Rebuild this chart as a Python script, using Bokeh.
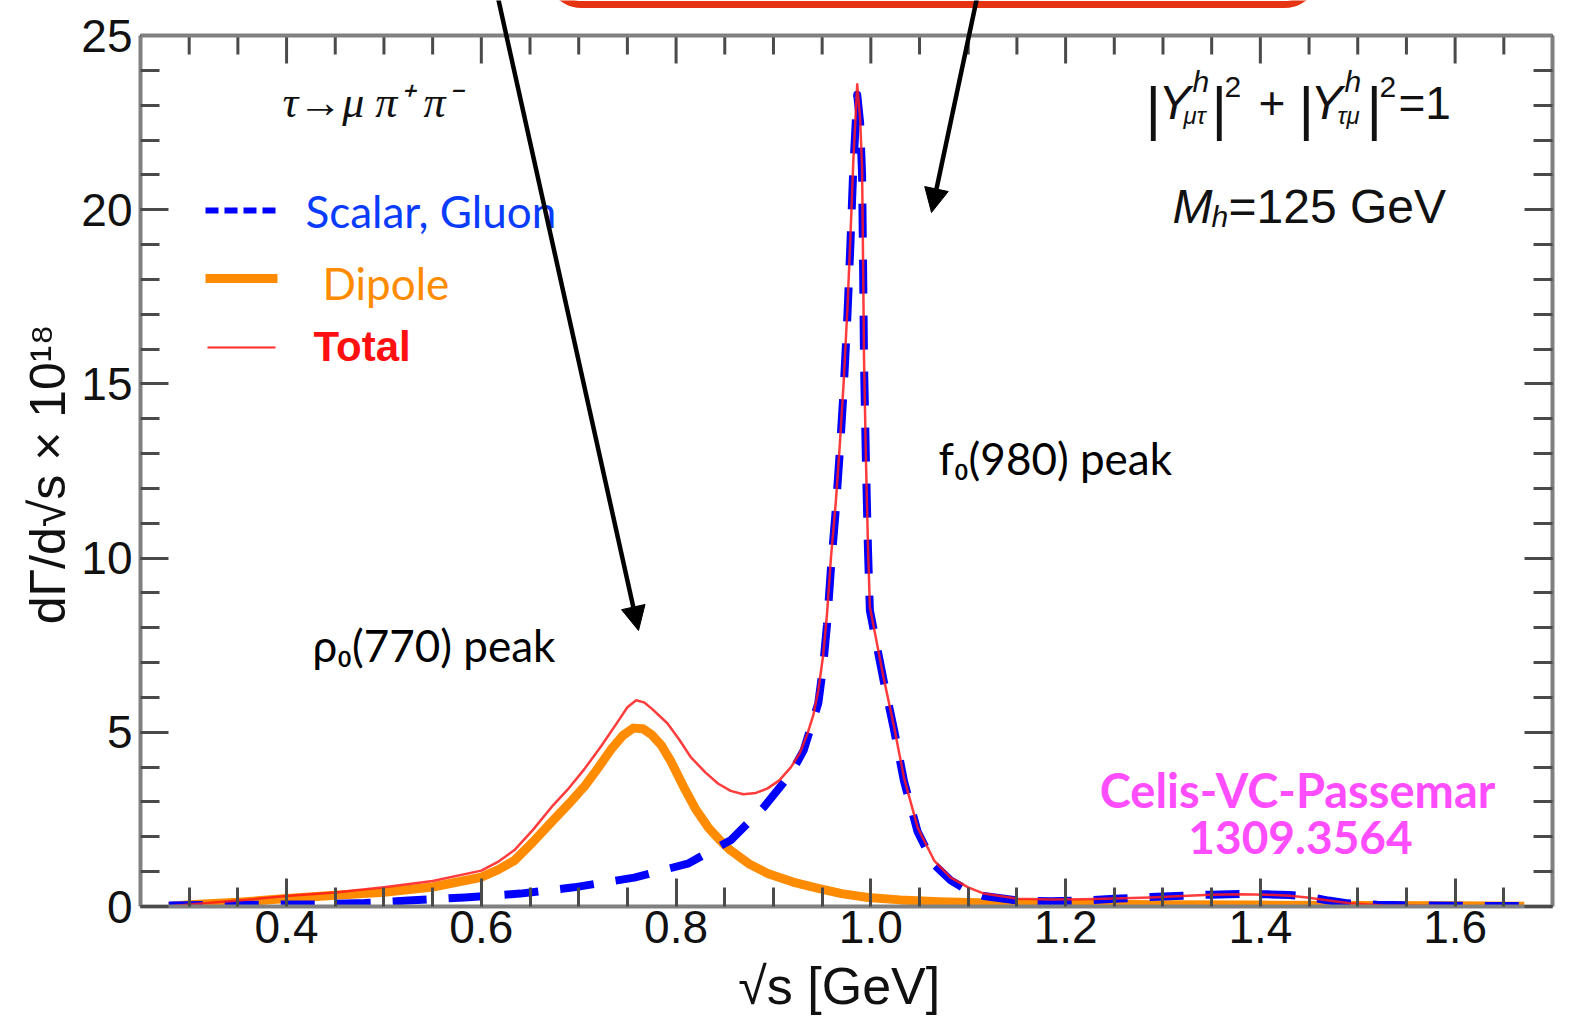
import math
from bokeh.plotting import figure
from bokeh.models import (Range1d, LinearAxis, FixedTicker, Label, Arrow, NormalHead, Span)
from bokeh.embed import file_html
from bokeh.resources import INLINE

# ---- spectra: sqrt(s) in GeV, dGamma/dsqrt(s) x 10^18 ----
sqrt_s_scalar = [0.279, 0.35, 0.43, 0.48, 0.525, 0.583, 0.64, 0.695, 0.757, 0.812,
                 0.856, 0.890, 0.918, 0.931, 0.946, 0.951, 0.955, 0.959, 0.964, 0.968,
                 0.972, 0.976, 0.979, 0.982, 0.986, 0.989, 0.991, 0.992, 0.993, 0.995,
                 0.997, 0.999, 1.013, 1.024, 1.034, 1.048, 1.065, 1.082, 1.10, 1.116,
                 1.151, 1.185, 1.218, 1.25, 1.287, 1.32, 1.349, 1.38, 1.407, 1.43,
                 1.448, 1.47, 1.49, 1.52, 1.56, 1.60, 1.671]
dgamma_scalar = [0.03, 0.05, 0.06, 0.10, 0.17, 0.26, 0.37, 0.55, 0.83, 1.23,
                 1.90, 2.85, 3.82, 4.48, 5.83, 6.9, 8.1, 9.7, 11.4, 13.0,
                 14.8, 17.0, 19.0, 21.2, 23.3, 22.5, 21.0, 18.5, 15.6, 12.7,
                 10.3, 8.5, 6.5, 5.05, 3.6, 2.15, 1.2, 0.75, 0.45, 0.30,
                 0.17, 0.15, 0.17, 0.22, 0.27, 0.31, 0.34, 0.36, 0.35, 0.33,
                 0.28, 0.17, 0.09, 0.05, 0.03, 0.02, 0.01]

sqrt_s_dipole = [0.279, 0.30, 0.35, 0.40, 0.45, 0.50, 0.55, 0.60, 0.617, 0.634,
                 0.653, 0.672, 0.690, 0.706, 0.720, 0.733, 0.745, 0.756, 0.766, 0.775,
                 0.785, 0.795, 0.808, 0.820, 0.833, 0.845, 0.856, 0.875, 0.894, 0.92,
                 0.946, 0.97, 0.997, 1.03, 1.07, 1.12, 1.20, 1.30, 1.40, 1.50,
                 1.60, 1.671]
dgamma_dipole = [0.00, 0.05, 0.12, 0.23, 0.32, 0.41, 0.56, 0.84, 1.05, 1.32,
                 1.85, 2.42, 2.95, 3.45, 3.98, 4.50, 4.90, 5.12, 5.10, 4.93,
                 4.62, 4.15, 3.42, 2.80, 2.27, 1.90, 1.61, 1.22, 0.95, 0.70,
                 0.52, 0.37, 0.26, 0.19, 0.14, 0.10, 0.07, 0.05, 0.04, 0.03,
                 0.02, 0.01]

sqrt_s_total = [0.279, 0.30, 0.35, 0.40, 0.45, 0.50, 0.55, 0.60, 0.617, 0.634,
                0.653, 0.672, 0.690, 0.706, 0.723, 0.740, 0.750, 0.759, 0.767, 0.775,
                0.791, 0.803, 0.815, 0.830, 0.843, 0.856, 0.869, 0.882, 0.894, 0.906,
                0.918, 0.927, 0.935, 0.941, 0.946, 0.951, 0.955, 0.959, 0.964, 0.968,
                0.972, 0.976, 0.979, 0.982, 0.986, 0.989, 0.991, 0.992, 0.993, 0.995,
                0.997, 0.999, 1.013, 1.024, 1.034, 1.048, 1.065, 1.082, 1.10, 1.116,
                1.151, 1.185, 1.218, 1.25, 1.287, 1.32, 1.349, 1.38, 1.407, 1.43,
                1.448, 1.47, 1.492, 1.526, 1.56, 1.60, 1.671]
dgamma_total = [0.00, 0.06, 0.17, 0.30, 0.40, 0.55, 0.73, 1.03, 1.28, 1.62,
                2.20, 2.85, 3.40, 3.95, 4.60, 5.30, 5.72, 5.92, 5.86, 5.68,
                5.26, 4.80, 4.29, 3.85, 3.53, 3.32, 3.22, 3.26, 3.39, 3.62,
                4.00, 4.40, 4.97, 5.50, 6.20, 7.20, 8.40, 10.0, 11.6, 13.2,
                15.0, 17.2, 19.2, 21.4, 23.6, 22.6, 21.2, 18.6, 15.7, 12.8,
                10.4, 8.6, 6.58, 5.14, 3.70, 2.27, 1.32, 0.83, 0.55, 0.37,
                0.22, 0.20, 0.21, 0.23, 0.26, 0.30, 0.34, 0.35, 0.34, 0.31,
                0.26, 0.17, 0.09, 0.03, 0.02, 0.01, 0.00]

x_major_ticks = [0.4, 0.6, 0.8, 1.0, 1.2, 1.4, 1.6]
x_tick_labels = ["0.4", "0.6", "0.8", "1.0", "1.2", "1.4", "1.6"]
x_minor_ticks = [0.30, 0.35, 0.45, 0.50, 0.55, 0.65, 0.70, 0.75, 0.85, 0.90, 0.95,
                 1.05, 1.10, 1.15, 1.25, 1.30, 1.35, 1.45, 1.50, 1.55, 1.65]
y_major_ticks = [0, 5, 10, 15, 20, 25]
y_minor_ticks = list(range(0, 26))
Y_TOP = 25.0

# ---- canvas / frame geometry ----
# The frame reaches the top of the canvas so the callout above the axes box
# can be drawn; the top edge of the axes box (y = 25) is drawn by hand.
W, H = 1572, 1019
FL, FR, FB = 140, 1552, 906
AXES_TOP_PX = 35
X0, X1 = 0.25, 1.70
UNIT = Y_TOP / (FB - AXES_TOP_PX)          # data units per pixel (vertical)
Y0, Y1 = 0.0, FB * UNIT


def gx(px):
    return X0 + (px - FL) * (X1 - X0) / (FR - FL)


def gy(py):
    return (FB - py) * UNIT


p = figure(width=W, height=H, x_range=Range1d(X0, X1), y_range=Range1d(Y0, Y1),
           output_backend="svg", toolbar_location=None,
           min_border_left=FL, min_border_right=W - FR,
           min_border_top=0, min_border_bottom=H - FB)
p.grid.visible = False
p.outline_line_color = None
p.background_fill_color = "white"
p.border_fill_color = "white"

AX_GREY, TICK_GREY = "#808080", "#4a4a4a"
MAJ_IN, MIN_IN = 28, 19

bottom_ax = p.below[0]
left_ax = p.left[0]
bottom_ax.ticker = FixedTicker(ticks=x_major_ticks, minor_ticks=x_minor_ticks)
bottom_ax.major_label_overrides = dict(zip(x_major_ticks, x_tick_labels))
left_ax.ticker = FixedTicker(ticks=y_major_ticks, minor_ticks=y_minor_ticks)
left_ax.bounds = (0, Y_TOP)

right_ax = LinearAxis(ticker=FixedTicker(ticks=y_major_ticks, minor_ticks=y_minor_ticks),
                      major_label_overrides={t: "" for t in y_major_ticks},
                      bounds=(0, Y_TOP))
p.add_layout(right_ax, "right")

for ax in [bottom_ax, left_ax, right_ax]:
    ax.axis_line_color = AX_GREY
    ax.axis_line_width = 4
    ax.major_tick_line_color = TICK_GREY
    ax.major_tick_line_width = 3
    ax.minor_tick_line_color = TICK_GREY
    ax.minor_tick_line_width = 3
    ax.major_tick_in = MAJ_IN
    ax.major_tick_out = 0
    ax.minor_tick_in = MIN_IN
    ax.minor_tick_out = 0
    ax.major_label_text_font = "Liberation Sans"
    ax.major_label_text_font_size = "46px"
    ax.major_label_text_color = "#111111"
    ax.major_label_standoff = 4

right_ax.major_label_text_font_size = "10px"
right_ax.major_label_standoff = 0
left_ax.major_label_standoff = 8

# axis titles; the y title is centred on the axes box (0..25), which sits
# below the middle of the frame, hence the trailing no-break spaces
for ax in [bottom_ax, left_ax]:
    ax.axis_label_text_font = "Liberation Sans"
    ax.axis_label_text_font_style = "normal"
    ax.axis_label_text_color = "#111111"
bottom_ax.axis_label = "√s  [GeV]"
bottom_ax.axis_label_text_font_size = "52px"
bottom_ax.axis_label_standoff = 11
left_ax.axis_label = "dΓ/d√s × 10¹⁸\u00a0\u00a0\u00a0"
left_ax.axis_label_text_font_size = "50px"
left_ax.axis_label_standoff = 2

# top edge of the axes box with inward ticks
p.add_layout(Span(location=Y_TOP, dimension="width", line_color=AX_GREY, line_width=4))
p.segment(x0=x_major_ticks, y0=[Y_TOP] * len(x_major_ticks),
          x1=x_major_ticks, y1=[Y_TOP - MAJ_IN * UNIT] * len(x_major_ticks),
          line_color=TICK_GREY, line_width=3)
p.segment(x0=x_minor_ticks, y0=[Y_TOP] * len(x_minor_ticks),
          x1=x_minor_ticks, y1=[Y_TOP - MIN_IN * UNIT] * len(x_minor_ticks),
          line_color=TICK_GREY, line_width=3)

# ---- curves ----
p.line(sqrt_s_dipole, dgamma_dipole, line_color="#ff8c00", line_width=9, line_join="round")
p.line(sqrt_s_scalar, dgamma_scalar, line_color="#0000ff", line_width=8,
       line_dash="34 22", line_join="round")
p.line(sqrt_s_total, dgamma_total, line_color="#ff1a1a", line_width=2.5,
       line_alpha=0.85, line_join="round")


def seg(p0, p1, color, width, dash="solid"):
    p.add_layout(Arrow(end=None, x_start=gx(p0[0]), y_start=gy(p0[1]),
                       x_end=gx(p1[0]), y_end=gy(p1[1]),
                       line_color=color, line_width=width, line_dash=dash))


# ---- legend keys ----
seg((205, 210), (276, 210), "#0000ff", 6, dash="13 6")
seg((205, 278), (277, 278), "#ff8c00", 9)
seg((207, 347), (275, 347), "#ff2a2a", 2)

# text baselines sit this many px above the alphabetic reference used for layout
LIFT = 16


def label(px, py, text, font="Lato", size=44, color="#000000", style="normal",
          align="left"):
    p.add_layout(Label(x=gx(px), y=gy(py - LIFT), text=text, text_font=font,
                       text_font_size=f"{size}px", text_color=color,
                       text_font_style=style, text_align=align,
                       text_baseline="alphabetic"))


label(305, 226, "Scalar, Gluon", color="#0a3cff")
label(322, 298, "Dipole", color="#ff8c00")
label(313, 362, "Total", font="Liberation Sans", size=42, color="#ff1010", style="bold")

# ---- physics annotations ----
label(282, 118, "τ→μ π⁺ π⁻", font="Liberation Serif", size=44, color="#111111", style="italic")

HV = "Liberation Sans"
label(1145, 124, "|", font=HV, size=60, color="#111111")
label(1158, 118, "Y", font=HV, size=48, color="#111111", style="italic")
label(1192, 97, "h", font=HV, size=30, color="#111111", style="italic")
label(1183, 131, "μτ", font=HV, size=24, color="#111111", style="italic")
label(1211, 124, "|", font=HV, size=60, color="#111111")
label(1224, 102, "2", font=HV, size=30, color="#111111")
label(1258, 118, "+", font=HV, size=46, color="#111111")
label(1298, 124, "|", font=HV, size=60, color="#111111")
label(1310, 118, "Y", font=HV, size=48, color="#111111", style="italic")
label(1344, 97, "h", font=HV, size=30, color="#111111", style="italic")
label(1337, 131, "τμ", font=HV, size=24, color="#111111", style="italic")
label(1366, 124, "|", font=HV, size=60, color="#111111")
label(1379, 102, "2", font=HV, size=30, color="#111111")
label(1398, 118, "=1", font=HV, size=46, color="#111111")

label(1172, 222, "M", font=HV, size=48, color="#111111", style="italic")
label(1211, 232, "h", font=HV, size=30, color="#111111", style="italic")
label(1228, 222, "=125 GeV", font=HV, size=48, color="#111111")

label(938, 473, "f₀(980) peak", size=44)
label(312, 660, "ρ₀(770) peak", size=44)

label(1297, 805, "Celis-VC-Passemar", size=47, color="#ff4dff", style="bold", align="center")
label(1300, 853, "1309.3564", size=46, color="#ff4dff", style="bold", align="center")

# ---- rounded callout box at the top (only its lower edge is on the page) ----
BOX_L, BOX_R, BOX_B, RAD = 549, 1316, 4, 32
outline = [(BOX_L, -60)]
for k in range(0, 13):
    t = math.radians(90 * k / 12)
    outline.append((BOX_L + RAD - RAD * math.cos(t), BOX_B - RAD + RAD * math.sin(t)))
for k in range(0, 13):
    t = math.radians(90 * k / 12)
    outline.append((BOX_R - RAD + RAD * math.sin(t), BOX_B - RAD + RAD * math.cos(t)))
outline.append((BOX_R, -60))
p.line([gx(a) for a, _ in outline], [gy(b) for _, b in outline],
       line_color="#e63312", line_width=7, line_join="round")

# ---- pointers from the callout ----
p.add_layout(Arrow(end=NormalHead(size=24, fill_color="black", line_color="black"),
                   x_start=gx(497), y_start=gy(-5), x_end=gx(638), y_end=gy(630),
                   line_color="black", line_width=4.5))
p.add_layout(Arrow(end=NormalHead(size=24, fill_color="black", line_color="black"),
                   x_start=gx(977), y_start=gy(-5), x_end=gx(931), y_end=gy(212),
                   line_color="black", line_width=4.5))

open("out.html", "w").write(file_html(p, INLINE))
